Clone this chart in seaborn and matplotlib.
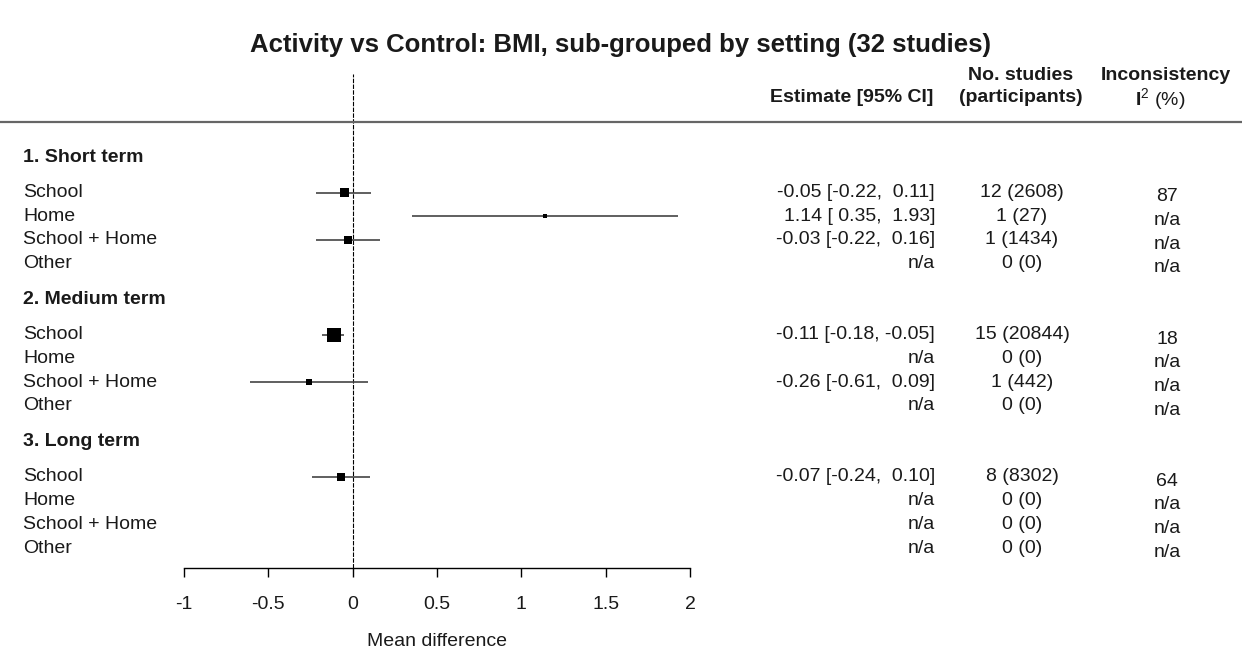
import numpy as np
import pandas as pd
import seaborn as sns
import matplotlib
matplotlib.use("Agg")
import matplotlib.pyplot as plt
from matplotlib import transforms
from matplotlib.lines import Line2D

# === Data ===
title = "Activity vs Control: BMI, sub-grouped by setting (32 studies)"
groups = ["1. Short term", "2. Medium term", "3. Long term"]
settings = ["School", "Home", "School + Home", "Other"]

# one list per group, order follows settings; None = n/a
estimate = [[-0.05, 1.14, -0.03, None],
            [-0.11, None, -0.26, None],
            [-0.07, None, None, None]]
ci_low = [[-0.22, 0.35, -0.22, None],
          [-0.18, None, -0.61, None],
          [-0.24, None, None, None]]
ci_high = [[0.11, 1.93, 0.16, None],
           [-0.05, None, 0.09, None],
           [0.10, None, None, None]]
n_studies = [[12, 1, 1, 0],
             [15, 0, 1, 0],
             [8, 0, 0, 0]]
participants = [[2608, 27, 1434, 0],
                [20844, 0, 442, 0],
                [8302, 0, 0, 0]]
i_squared = [[87, None, None, None],
             [18, None, None, None],
             [64, None, None, None]]

x_ticks = [-1, -0.5, 0, 0.5, 1, 1.5, 2]
x_tick_labels = ["-1", "-0.5", "0", "0.5", "1", "1.5", "2"]

# === Layout (pixels of a 1242 x 655 canvas) ===
W, H = 1242, 655
ROW_TOP_PX, ROW_STEP_PX = 157, 23.7


def fx(px):
    return px / W


def fy(px):
    return 1 - px / H


def row_of(px):
    return (px - ROW_TOP_PX) / ROW_STEP_PX


# === 1. Build long table ===
def build_table() -> pd.DataFrame:
    rows = []
    for g, group in enumerate(groups):
        for i, setting in enumerate(settings):
            rows.append({
                "group": group,
                "setting": setting,
                "y": 6 * g + 1.5 + i,
                "est": estimate[g][i],
                "lo": ci_low[g][i],
                "hi": ci_high[g][i],
                "k": n_studies[g][i],
                "n": participants[g][i],
                "i2": i_squared[g][i],
            })
    df = pd.DataFrame(rows)
    # inverse-variance weight -> square side (px)
    se = (df["hi"] - df["lo"]) / 3.92
    w = 1 / se ** 2
    side_pt = 2.53 * w ** 0.251 * 0.72
    df["area"] = side_pt ** 2
    return df


def fmt_estimate(r) -> str:
    if pd.isna(r["est"]):
        return "n/a"
    return f"{r['est']:.2f} [{r['lo']:5.2f}, {r['hi']:5.2f}]"


# === 2. Forest plot ===
def plot_forest(df: pd.DataFrame, output_path: str = "out.png") -> None:
    sns.set_style("white")
    plt.rcParams["font.family"] = ["Liberation Sans", "DejaVu Sans"]
    plt.rcParams["mathtext.fontset"] = "custom"
    plt.rcParams["mathtext.rm"] = "Liberation Sans"
    plt.rcParams["mathtext.bf"] = "Liberation Sans:bold"
    plt.rcParams["text.color"] = "#1a1a1a"
    fs = 14

    fig = plt.figure(figsize=(W / 100, H / 100), dpi=100)
    ax = fig.add_axes([fx(184), fy(568), fx(690) - fx(184), (568 - 74) / H])
    ax.set_xlim(-1, 2)
    ax.set_ylim(row_of(568), row_of(74))

    valid = df.dropna(subset=["est"])
    ax.hlines(valid["y"], valid["lo"], valid["hi"], color="#444444", lw=1.2, zorder=2)
    sns.scatterplot(
        data=valid, x="est", y="y", size="area",
        sizes=(valid["area"].min(), valid["area"].max()),
        marker="s", color="black", linewidth=0, legend=False, ax=ax, zorder=3,
    )
    ax.axvline(0, color="black", lw=0.8, ls=(0, (4, 1.2)), zorder=1)

    for side in ["top", "left", "right"]:
        ax.spines[side].set_visible(False)
    ax.spines["bottom"].set_color("black")
    ax.spines["bottom"].set_linewidth(1)
    ax.set_xticks(x_ticks)
    ax.set_xticklabels(x_tick_labels, fontsize=fs)
    ax.tick_params(axis="x", direction="out", length=6.5, width=1, pad=14,
                   bottom=True, colors="black", labelcolor="#1a1a1a")
    ax.set_yticks([])
    ax.set_xlabel("Mean difference", fontsize=fs, labelpad=14, color="#1a1a1a")
    ax.set_ylabel("")
    ax.patch.set_alpha(0)

    # row texts
    trans = transforms.blended_transform_factory(fig.transFigure, ax.transData)
    for g, group in enumerate(groups):
        ax.text(fx(23), 6 * g, group, transform=trans, ha="left", va="center",
                fontsize=fs, fontweight="bold", clip_on=False)
    for _, r in df.iterrows():
        ax.text(fx(23), r["y"], r["setting"], transform=trans, ha="left",
                va="center", fontsize=fs, clip_on=False)
        ax.text(fx(935), r["y"], fmt_estimate(r), transform=trans, ha="right",
                va="center", fontsize=fs, clip_on=False)
        ax.text(fx(1022), r["y"], f"{r['k']} ({r['n']})", transform=trans,
                ha="center", va="center", fontsize=fs, clip_on=False)
        i2 = "n/a" if pd.isna(r["i2"]) else f"{int(r['i2'])}"
        ax.text(fx(1167), r["y"] + 0.18, i2, transform=trans, ha="center",
                va="center", fontsize=fs, clip_on=False)

    # headers
    fig.text(0.5, fy(45), title, ha="center", va="center", fontsize=18.5,
             fontweight="bold")
    fig.text(fx(933), fy(98), "Estimate [95% CI]", ha="right", va="center",
             fontsize=fs, fontweight="bold")
    fig.text(fx(1021), fy(75), "No. studies", ha="center", va="center",
             fontsize=fs, fontweight="bold")
    fig.text(fx(1021), fy(98), "(participants)", ha="center", va="center",
             fontsize=fs, fontweight="bold")
    fig.text(fx(1166), fy(75), "Inconsistency", ha="center", va="center",
             fontsize=fs, fontweight="bold")
    fig.text(fx(1160), fy(100), r"$\mathbf{I}^{2}$ (%)", ha="center",
             va="center", fontsize=fs)

    fig.add_artist(Line2D([0, 1], [fy(122), fy(122)], color="#666666", lw=1.6))

    fig.savefig(output_path, dpi=100)
    plt.close(fig)
    print(f"[OK] Forest plot saved -> {output_path}")


if __name__ == "__main__":
    plot_forest(build_table())
